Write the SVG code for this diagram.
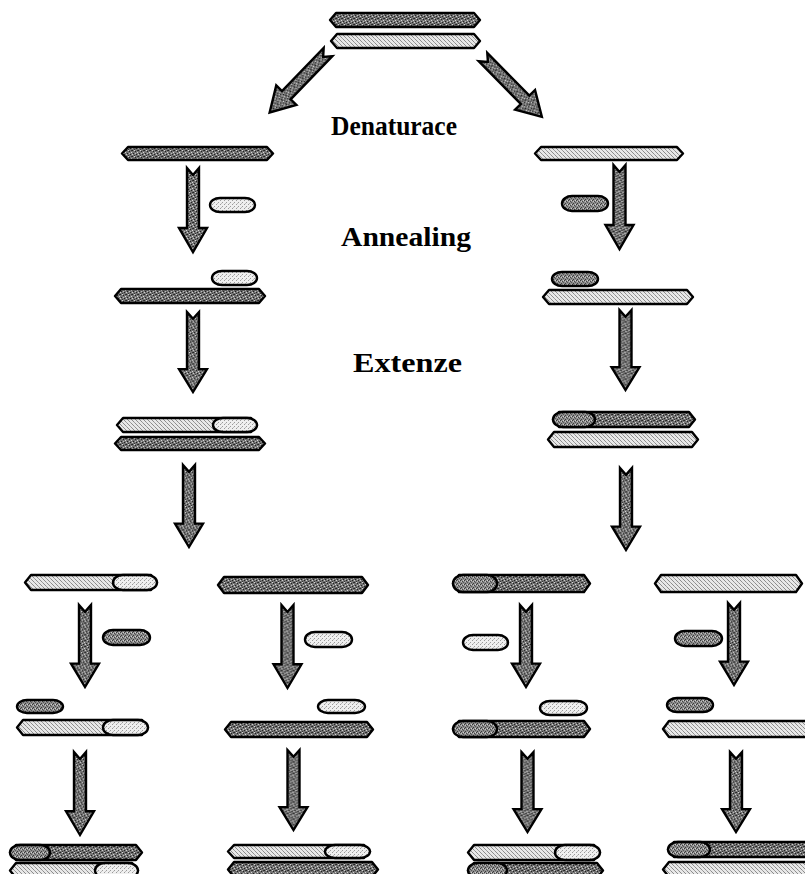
<svg xmlns="http://www.w3.org/2000/svg" xmlns:xlink="http://www.w3.org/1999/xlink" width="805" height="874" viewBox="0 0 805 874">
  <defs>
    <!-- dithered fills for the two parent strands and the two primer kinds -->
    <pattern id="dk" width="6" height="6" patternUnits="userSpaceOnUse">
      <rect width="6" height="6" fill="#747474"/>
      <rect x="0" y="0" width="1" height="1" fill="#222"/>
      <rect x="3" y="1" width="1" height="1" fill="#222"/>
      <rect x="1" y="3" width="1" height="1" fill="#222"/>
      <rect x="4" y="4" width="1" height="1" fill="#222"/>
      <rect x="2" y="5" width="1" height="1" fill="#333"/>
      <rect x="5" y="0" width="1" height="1" fill="#333"/>
      <rect x="2" y="0" width="1" height="1" fill="#d8d8d8"/>
      <rect x="5" y="2" width="1" height="1" fill="#d8d8d8"/>
      <rect x="0" y="4" width="1" height="1" fill="#cfcfcf"/>
      <rect x="3" y="3" width="1" height="1" fill="#bdbdbd"/>
    </pattern>
    <pattern id="lt" width="4" height="4" patternUnits="userSpaceOnUse">
      <rect width="4" height="4" fill="#e8e8e8"/>
      <rect x="0" y="0" width="1" height="1" fill="#8c8c8c"/>
      <rect x="1" y="1" width="1" height="1" fill="#8c8c8c"/>
      <rect x="2" y="2" width="1" height="1" fill="#a0a0a0"/>
      <rect x="3" y="3" width="1" height="1" fill="#8c8c8c"/>
    </pattern>
    <pattern id="pl" width="4" height="4" patternUnits="userSpaceOnUse">
      <rect width="4" height="4" fill="#efefef"/>
      <rect x="0" y="0" width="1" height="1" fill="#9a9a9a"/>
      <rect x="2" y="2" width="1" height="1" fill="#9a9a9a"/>
      <rect x="1" y="3" width="1" height="1" fill="#bdbdbd"/>
    </pattern>
    <pattern id="pd" width="4" height="4" patternUnits="userSpaceOnUse">
      <rect width="4" height="4" fill="#8e8e8e"/>
      <rect x="0" y="0" width="1" height="1" fill="#3a3a3a"/>
      <rect x="2" y="1" width="1" height="1" fill="#444"/>
      <rect x="1" y="3" width="1" height="1" fill="#3a3a3a"/>
      <rect x="3" y="2" width="1" height="1" fill="#555"/>
      <rect x="3" y="0" width="1" height="1" fill="#d0d0d0"/>
      <rect x="1" y="1" width="1" height="1" fill="#c4c4c4"/>
    </pattern>
    <!-- block arrow with notched tail, pointing down from (0,0) -->
    <path id="arr" d="M-6,0 L0,7 L6,0 L6,60 L14,60 L0,84 L-14,60 L-6,60 Z"/>
  </defs>
  <style>
    .s { stroke: #000; stroke-width: 2.4; stroke-linejoin: round; }
    .dk { fill: url(#dk); }
    .lt { fill: url(#lt); }
    .pl { fill: url(#pl); }
    .pd { fill: url(#pd); }
    .arrow use { fill: url(#dk); stroke: #000; stroke-width: 2.4; stroke-linejoin: miter; }
    .lbl { font-family: "Liberation Serif", "DejaVu Serif", serif; font-weight: bold; font-size: 27px; fill: #000; }
  </style>

  <!-- step labels -->
  <g id="labels">
    <text class="lbl" x="331" y="135" textLength="126" lengthAdjust="spacingAndGlyphs">Denaturace</text>
    <text class="lbl" x="341" y="246" textLength="130" lengthAdjust="spacingAndGlyphs">Annealing</text>
    <text class="lbl" x="353" y="372" textLength="109" lengthAdjust="spacingAndGlyphs">Extenze</text>
  </g>

  <!-- connectors -->
  <g id="connectors" class="arrow">
    <use xlink:href="#arr" transform="translate(328,52) rotate(44)"/>
    <use xlink:href="#arr" transform="translate(483,57) rotate(-44.5)"/>
    <use xlink:href="#arr" transform="translate(193,168)"/>
    <use xlink:href="#arr" transform="translate(619.5,165)"/>
    <use xlink:href="#arr" transform="translate(193,312) scale(1,0.953)"/>
    <use xlink:href="#arr" transform="translate(625.5,310) scale(1,0.953)"/>
    <use xlink:href="#arr" transform="translate(189,465) scale(1,0.976)"/>
    <use xlink:href="#arr" transform="translate(626,468) scale(1,0.976)"/>
    <use xlink:href="#arr" transform="translate(85,605) scale(1,0.976)"/>
    <use xlink:href="#arr" transform="translate(287.5,605) scale(1,0.988)"/>
    <use xlink:href="#arr" transform="translate(526,605) scale(1,0.976)"/>
    <use xlink:href="#arr" transform="translate(734,603) scale(1,0.976)"/>
    <use xlink:href="#arr" transform="translate(80,752) scale(1,0.988)"/>
    <use xlink:href="#arr" transform="translate(293.5,750) scale(1,0.953)"/>
    <use xlink:href="#arr" transform="translate(527.5,752) scale(1,0.953)"/>
    <use xlink:href="#arr" transform="translate(736,752) scale(1,0.953)"/>
  </g>

  <!-- starting double strand -->
  <g id="duplex">
    <path class="s dk" d="M330,20 L336,13 L474,13 L480,20 L474,27 L336,27 Z"/>
    <path class="s lt" d="M331,41 L337,34 L474,34 L480,41 L474,48 L337,48 Z"/>
  </g>

  <!-- separated strands -->
  <g id="strand-left">
    <path class="s dk" d="M122,153.5 L128,147 L267,147 L273,153.5 L267,160 L128,160 Z"/>
  </g>
  <g id="strand-right">
    <path class="s lt" d="M535,153.5 L541,147 L677,147 L683,153.5 L677,160 L541,160 Z"/>
  </g>
  <g id="primer-left">
    <rect class="s pl" x="210" y="198" width="45" height="14" rx="10" ry="7"/>
  </g>
  <g id="primer-right">
    <rect class="s pd" x="562" y="196" width="46" height="15" rx="10" ry="7.5"/>
  </g>

  <!-- primers annealed -->
  <g id="annealed-left">
    <rect class="s pl" x="212" y="271" width="45" height="14" rx="10" ry="7"/>
    <path class="s dk" d="M115,296 L121,289 L259,289 L265,296 L259,303 L121,303 Z"/>
  </g>
  <g id="annealed-right">
    <rect class="s pd" x="552" y="272" width="46" height="14" rx="10" ry="7"/>
    <path class="s lt" d="M543,297 L549,290 L687,290 L693,297 L687,304 L549,304 Z"/>
  </g>

  <!-- extended products -->
  <g id="extended-left">
    <path class="s lt" d="M117,425 L123,418 L251,418 L257,425 L251,432 L123,432 Z"/>
    <rect class="s pl" x="213" y="418" width="44" height="14" rx="10" ry="7"/>
    <path class="s dk" d="M115,443.5 L121,437 L259,437 L265,443.5 L259,450 L121,450 Z"/>
  </g>
  <g id="extended-right">
    <path class="s dk" d="M553,419.5 L559,412 L689,412 L695,419.5 L689,427 L559,427 Z"/>
    <rect class="s pd" x="553" y="412" width="42" height="15" rx="10" ry="7.5"/>
    <path class="s lt" d="M548,439.5 L554,432 L692,432 L698,439.5 L692,447 L554,447 Z"/>
  </g>

  <!-- second cycle: single strands -->
  <g id="strand-a">
    <path class="s lt" d="M25,582.5 L31,575 L151,575 L157,582.5 L151,590 L31,590 Z"/>
    <rect class="s pl" x="113" y="575" width="44" height="15" rx="10" ry="7.5"/>
  </g>
  <g id="strand-b">
    <path class="s dk" d="M218,585 L224,577 L362,577 L368,585 L362,593 L224,593 Z"/>
  </g>
  <g id="strand-c">
    <path class="s dk" d="M453,583.5 L459,575 L584,575 L590,583.5 L584,592 L459,592 Z"/>
    <rect class="s pd" x="453" y="575" width="44" height="17" rx="10" ry="8.5"/>
  </g>
  <g id="strand-d">
    <path class="s lt" d="M655,583.5 L661,575 L796,575 L802,583.5 L796,592 L661,592 Z"/>
  </g>

  <!-- second cycle: free primers -->
  <g id="primer-a"><rect class="s pd" x="103" y="630" width="47" height="15" rx="10" ry="7.5"/></g>
  <g id="primer-b"><rect class="s pl" x="305" y="632" width="47" height="15" rx="10" ry="7.5"/></g>
  <g id="primer-c"><rect class="s pl" x="463" y="635" width="45" height="15" rx="10" ry="7.5"/></g>
  <g id="primer-d"><rect class="s pd" x="675" y="631" width="47" height="15" rx="10" ry="7.5"/></g>

  <!-- second cycle: primers annealed -->
  <g id="annealed-a">
    <rect class="s pd" x="17" y="700" width="46" height="13" rx="10" ry="6.5"/>
    <path class="s lt" d="M17,727.5 L23,720 L142,720 L148,727.5 L142,735 L23,735 Z"/>
    <rect class="s pl" x="103" y="720" width="45" height="15" rx="10" ry="7.5"/>
  </g>
  <g id="annealed-b">
    <rect class="s pl" x="318" y="700" width="47" height="13" rx="10" ry="6.5"/>
    <path class="s dk" d="M225,729.5 L231,722 L367,722 L373,729.5 L367,737 L231,737 Z"/>
  </g>
  <g id="annealed-c">
    <rect class="s pl" x="540" y="701" width="47" height="14" rx="10" ry="7"/>
    <path class="s dk" d="M453,729 L459,721 L584,721 L590,729 L584,737 L459,737 Z"/>
    <rect class="s pd" x="453" y="721" width="44" height="16" rx="10" ry="8"/>
  </g>
  <g id="annealed-d">
    <rect class="s pd" x="667" y="698" width="46" height="14" rx="10" ry="7"/>
    <path class="s lt" d="M663,729 L669,721 L806,721 L812,729 L806,737 L669,737 Z"/>
  </g>

  <!-- second cycle: extended products -->
  <g id="product-a">
    <path class="s dk" d="M10,852.5 L16,845 L136,845 L142,852.5 L136,860 L16,860 Z"/>
    <rect class="s pd" x="10" y="845" width="40" height="15" rx="10" ry="7.5"/>
    <path class="s lt" d="M10,870.5 L16,863 L132,863 L138,870.5 L132,878 L16,878 Z"/>
    <rect class="s pl" x="95" y="863" width="43" height="15" rx="10" ry="7.5"/>
  </g>
  <g id="product-b">
    <path class="s lt" d="M228,851.5 L234,845 L364,845 L370,851.5 L364,858 L234,858 Z"/>
    <rect class="s pl" x="325" y="845" width="45" height="13" rx="10" ry="6.5"/>
    <path class="s dk" d="M228,869.5 L234,862 L372,862 L378,869.5 L372,877 L234,877 Z"/>
  </g>
  <g id="product-c">
    <path class="s lt" d="M468,852.5 L474,845 L594,845 L600,852.5 L594,860 L474,860 Z"/>
    <rect class="s pl" x="555" y="845" width="45" height="15" rx="10" ry="7.5"/>
    <path class="s dk" d="M468,870.5 L474,863 L597,863 L603,870.5 L597,878 L474,878 Z"/>
    <rect class="s pd" x="468" y="863" width="39" height="15" rx="10" ry="7.5"/>
  </g>
  <g id="product-d">
    <path class="s dk" d="M668,849.5 L674,842 L809,842 L815,849.5 L809,857 L674,857 Z"/>
    <rect class="s pd" x="668" y="842" width="42" height="15" rx="10" ry="7.5"/>
    <path class="s lt" d="M663,869.5 L669,862 L809,862 L815,869.5 L809,877 L669,877 Z"/>
  </g>
</svg>
